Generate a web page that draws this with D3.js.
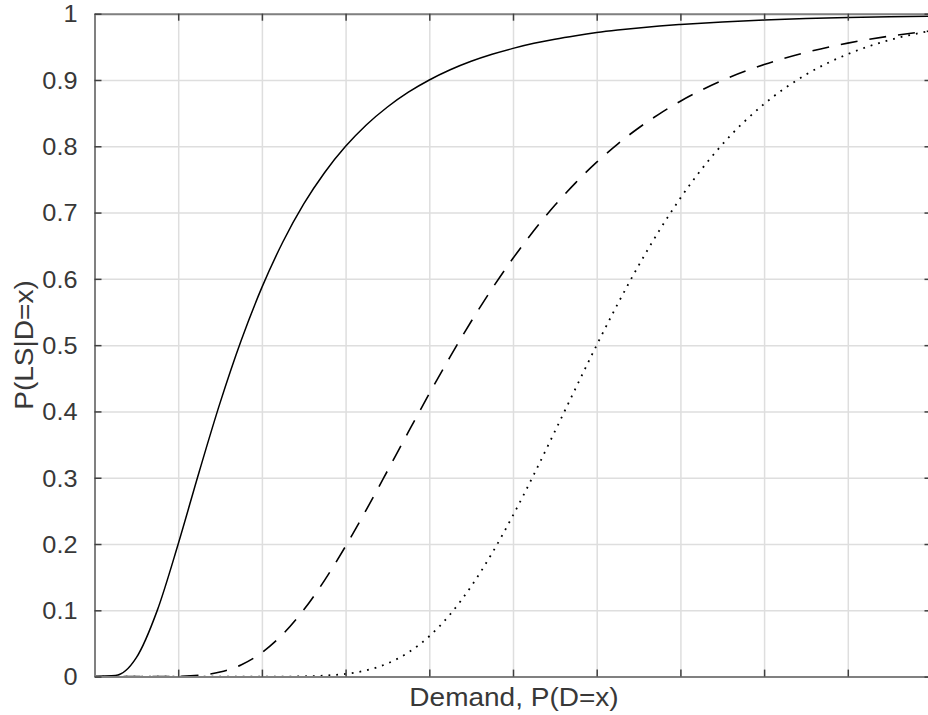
<!DOCTYPE html>
<html>
<head>
<meta charset="utf-8">
<script src="https://cdn.jsdelivr.net/npm/d3@7"></script>
<style>
    html, body { margin: 0; padding: 0; background: #fff; }
    svg { display: block; font-family: "Liberation Sans", Arial, sans-serif; }
</style>
</head>
<body>
<div id="chart"></div>
<script>
// demand values (x) shared by all three curves
const demand = [0, 0.25, 0.5, 0.75, 1, 1.25, 1.5, 1.75, 2, 2.25, 2.5, 2.75, 3, 3.25, 3.5, 3.75,
    4, 4.25, 4.5, 4.75, 5, 5.25, 5.5, 5.75, 6, 6.25, 6.5, 6.75, 7, 7.5, 8, 8.5, 9, 9.5, 10];

// P(LS|D=x)
const solidCurve = [0, 0.0015, 0.0285, 0.0999, 0.2001, 0.3087, 0.4129, 0.5063, 0.5871, 0.6556,
    0.7130, 0.7605, 0.7999, 0.8325, 0.8593, 0.8816, 0.9000, 0.9154, 0.9282, 0.9388, 0.9477,
    0.9553, 0.9616, 0.9669, 0.9715, 0.9753, 0.9786, 0.9814, 0.9837, 0.9876, 0.9904, 0.9926,
    0.9942, 0.9954, 0.9964];
const dashedCurve = [0, 0, 0, 0, 0.0003, 0.0019, 0.0068, 0.0176, 0.0362, 0.0640, 0.1007, 0.1456,
    0.1967, 0.2523, 0.3103, 0.3690, 0.4269, 0.4827, 0.5357, 0.5852, 0.6310, 0.6729, 0.7109,
    0.7452, 0.7760, 0.8033, 0.8276, 0.8490, 0.8680, 0.8993, 0.9232, 0.9416, 0.9556, 0.9662, 0.9742];
const dottedCurve = [0, 0, 0, 0, 0, 0, 0, 0, 0, 0, 0.0004, 0.0015, 0.0041, 0.0096, 0.0198, 0.0364,
    0.0609, 0.0940, 0.1361, 0.1862, 0.2432, 0.3050, 0.3698, 0.4354, 0.5000, 0.5619, 0.6199,
    0.6733, 0.7218, 0.8027, 0.8638, 0.9081, 0.9390, 0.9603, 0.9744];

const xTicks = [0, 1, 2, 3, 4, 5, 6, 7, 8, 9, 10];
const yTicks = [0, 0.1, 0.2, 0.3, 0.4, 0.5, 0.6, 0.7, 0.8, 0.9, 1];
const yTickLabels = ["0", "0.1", "0.2", "0.3", "0.4", "0.5", "0.6", "0.7", "0.8", "0.9", "1"];

const xLabel = "Demand, P(D=x)";
const yLabel = "P(LS|D=x)";

const width = 928, height = 715;
// plot box; the right edge sits just past the window, as in the reference
const box = { left: 94.5, right: 931.5, top: 13.7, bottom: 676.6 };

const svg = d3.select("#chart").append("svg")
    .attr("width", width)
    .attr("height", height);

const x = d3.scaleLinear().domain([0, 10]).range([box.left, box.right]);
const y = d3.scaleLinear().domain([0, 1]).range([box.bottom, box.top]);

// widen text a little, the reference font runs wider than Arial
function widen(sel, k) {
    sel.each(function () {
        const len = this.getComputedTextLength();
        d3.select(this).attr("textLength", len * k).attr("lengthAdjust", "spacingAndGlyphs");
    });
}

// grid
svg.append("g")
    .attr("transform", `translate(0,${box.bottom})`)
    .call(d3.axisBottom(x).tickValues(xTicks).tickSize(-(box.bottom - box.top)).tickFormat(""))
    .call(g => g.select(".domain").remove())
    .selectAll("line")
    .attr("stroke", "#dedede")
    .attr("stroke-width", 1.5);

svg.append("g")
    .attr("transform", `translate(${box.left},0)`)
    .call(d3.axisLeft(y).tickValues(yTicks).tickSize(-(box.right - box.left)).tickFormat(""))
    .call(g => g.select(".domain").remove())
    .selectAll("line")
    .attr("stroke", "#dedede")
    .attr("stroke-width", 1.5);

// curves
svg.append("clipPath").attr("id", "plot-clip")
    .append("rect")
    .attr("x", box.left).attr("y", box.top - 2)
    .attr("width", box.right - box.left).attr("height", box.bottom - box.top + 2);

const line = d3.line()
    .x((d, i) => x(demand[i]))
    .y(d => y(d))
    .curve(d3.curveMonotoneX);

const plot = svg.append("g").attr("clip-path", "url(#plot-clip)");

plot.append("path")
    .datum(solidCurve)
    .attr("fill", "none")
    .attr("stroke", "#000")
    .attr("stroke-width", 1.5)
    .attr("d", line);

plot.append("path")
    .datum(dashedCurve)
    .attr("fill", "none")
    .attr("stroke", "#000")
    .attr("stroke-width", 1.6)
    .attr("stroke-dasharray", "17,12")
    .attr("d", line);

plot.append("path")
    .datum(dottedCurve)
    .attr("fill", "none")
    .attr("stroke", "#000")
    .attr("stroke-width", 1.8)
    .attr("stroke-dasharray", "1.8,6")
    .attr("d", line);

// axes box with inward ticks
const axisColor = "#808080";
const tickLen = 7;

const bottomAxis = svg.append("g")
    .attr("transform", `translate(0,${box.bottom})`)
    .call(d3.axisBottom(x).tickValues(xTicks).tickSizeInner(-tickLen).tickSizeOuter(0).tickFormat(""));
const topAxis = svg.append("g")
    .attr("transform", `translate(0,${box.top})`)
    .call(d3.axisTop(x).tickValues(xTicks).tickSizeInner(-tickLen).tickSizeOuter(0).tickFormat(""));
const leftAxis = svg.append("g")
    .attr("transform", `translate(${box.left},0)`)
    .call(d3.axisLeft(y).tickValues(yTicks).tickSizeInner(-tickLen).tickSizeOuter(0)
        .tickFormat((d, i) => yTickLabels[i]).tickPadding(10 + tickLen));
const rightAxis = svg.append("g")
    .attr("transform", `translate(${box.right},0)`)
    .call(d3.axisRight(y).tickValues(yTicks).tickSizeInner(-tickLen).tickSizeOuter(0).tickFormat(""));

[bottomAxis, topAxis, leftAxis, rightAxis].forEach(g => {
    g.select(".domain").attr("stroke", axisColor).attr("stroke-width", 2);
    g.selectAll(".tick line").attr("stroke", "#404040").attr("stroke-width", 1.5);
});

leftAxis.selectAll("text")
    .attr("fill", "#383838")
    .attr("font-size", 23)
    .attr("font-family", "Liberation Sans, Arial, sans-serif")
    .attr("dy", "0.36em")
    .call(widen, 1.1);

// axis labels
svg.append("text")
    .attr("x", (406 + 622) / 2)
    .attr("y", 705.5)
    .attr("text-anchor", "middle")
    .attr("font-size", 25)
    .attr("fill", "#383838")
    .text(xLabel)
    .call(widen, 1.12);

svg.append("text")
    .attr("transform", "translate(33,345) rotate(-90)")
    .attr("text-anchor", "middle")
    .attr("font-size", 25)
    .attr("fill", "#383838")
    .text(yLabel)
    .call(widen, 1.12);
</script>
</body>
</html>
